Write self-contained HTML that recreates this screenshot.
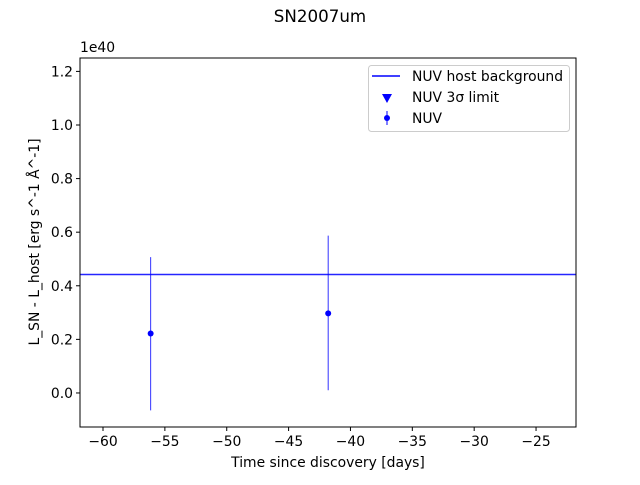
<!DOCTYPE html>
<html><head><meta charset="utf-8"><style>
body{margin:0;background:#fff;}
svg text{font-family:"DejaVu Sans","Liberation Sans",sans-serif;fill:#000;}
</style></head><body>
<svg id="chart" width="640" height="480" xmlns="http://www.w3.org/2000/svg">
<rect width="640" height="480" fill="#fff"/>
<text x="320" y="22" font-size="16.7" text-anchor="middle">SN2007um</text>
<g id="plot"></g>
<rect x="80" y="58" width="496" height="369" fill="none" stroke="#000" stroke-width="1"/>
<text x="80" y="52" font-size="13.9">1e40</text>
<text x="328" y="467" font-size="13.9" text-anchor="middle">Time since discovery [days]</text>
<text transform="translate(39,242) rotate(-90)" font-size="13.9" text-anchor="middle">L_SN - L_host [erg s^-1 Å^-1]</text>
<g>
<rect x="368.5" y="65.5" width="201" height="66" rx="3" fill="#fff" stroke="#ccc"/>
<line x1="372" y1="76" x2="400" y2="76" stroke="#0000ff" stroke-width="1.5"/>
<text x="412" y="81" font-size="13.9">NUV host background</text>
<polygon points="382,94 392,94 387,103" fill="#0000ff"/>
<text x="412" y="102" font-size="13.9">NUV 3σ limit</text>
<line x1="387" y1="111" x2="387" y2="125" stroke="#0000ff"/>
<circle cx="387" cy="118" r="3" fill="#0000ff"/>
<text x="412" y="123" font-size="13.9">NUV</text>
</g>
</svg>
<script>
const xTicks=[-60,-55,-50,-45,-40,-35,-30,-25];
const yTicks=[0.0,0.2,0.4,0.6,0.8,1.0,1.2];
const days=[-56.15,-41.8];
const lum=[0.222,0.297];
const errLo=[0.287,0.287];
const errHi=[0.285,0.29];
const hostLevel=[0.442];
const X0=80,X1=576,Y0=427,Y1=58,xmin=-61.86,xmax=-21.77,ymin=-0.127,ymax=1.25;
const sx=v=>X0+(v-xmin)/(xmax-xmin)*(X1-X0);
const sy=v=>Y0-(v-ymin)/(ymax-ymin)*(Y0-Y1);
const g=document.getElementById('plot');
const NS='http://www.w3.org/2000/svg';
function mk(t,a){const e=document.createElementNS(NS,t);for(const k in a)e.setAttribute(k,a[k]);g.appendChild(e);return e;}
xTicks.forEach(t=>{
 const x=sx(t);
 const l=mk('line',{x1:x,y1:Y0,x2:x,y2:Y0+4,stroke:'#000'});
 
 
 const s=mk('text',{x:x,y:Y0+19,'font-size':13.9,'text-anchor':'middle'});
 s.textContent=String(t).replace('-','−');
 
 
});
yTicks.forEach(t=>{
 const y=sy(t);
 const l=mk('line',{x1:X0-4,y1:y,x2:X0,y2:y,stroke:'#000'});
 
 
 const s=mk('text',{x:X0-7,y:y+5,'font-size':13.9,'text-anchor':'end'});
 s.textContent=t.toFixed(1);
 
 
});
hostLevel.forEach(h=>{
 const l=mk('line',{x1:X0,x2:X1,y1:sy(h),y2:sy(h),stroke:'#0000ff','stroke-width':1.5,opacity:0.85});
 
 
});
days.forEach((d,i)=>{
 const x=sx(d);
 const e=mk('line',{x1:x,x2:x,y1:sy(lum[i]+errHi[i]),y2:sy(lum[i]-errLo[i]),stroke:'#0000ff','stroke-width':1,opacity:0.8});
 
 
 const c=mk('circle',{cx:x,cy:sy(lum[i]),r:3,fill:'#0000ff'});
 
 
});
</script>
</body></html>
